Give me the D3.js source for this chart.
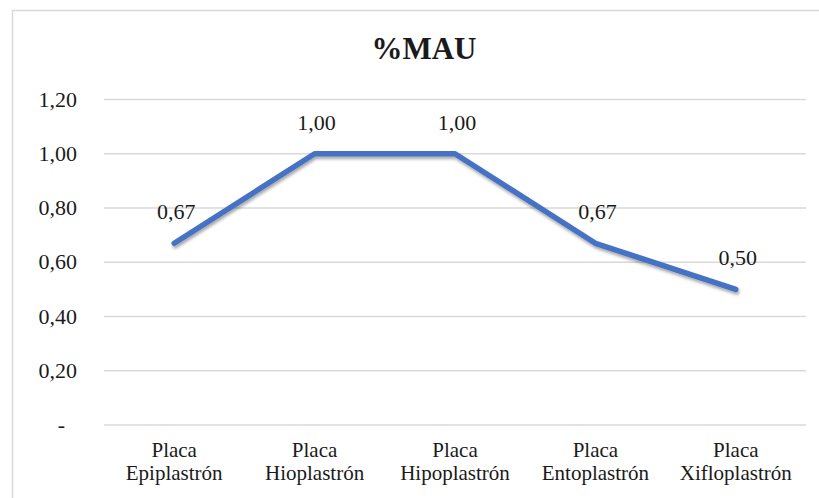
<!DOCTYPE html>
<html>
<head>
<meta charset="utf-8">
<script src="https://cdn.jsdelivr.net/npm/d3@7"></script>
</head>
<body style="margin:0; background:#fff">
<svg width="819" height="498"></svg>
<script>
const categories = [
    ["Placa", "Epiplastrón"],
    ["Placa", "Hioplastrón"],
    ["Placa", "Hipoplastrón"],
    ["Placa", "Entoplastrón"],
    ["Placa", "Xifloplastrón"]
];
const mauValues = [0.67, 1.00, 1.00, 0.67, 0.50];
const yTicks = [0, 0.2, 0.4, 0.6, 0.8, 1.0, 1.2];
const chartTitle = "%MAU";

const FONT = "Liberation Serif";
const svg = d3.select("svg");
const fmt = v => v === 0 ? "-" : v.toFixed(2).replace(".", ",");

// outer chart border
svg.append("rect")
    .attr("x", 12.5).attr("y", 10.5)
    .attr("width", 830).attr("height", 500)
    .attr("fill", "#fff")
    .attr("stroke", "#d9d9d9")
    .attr("stroke-width", 1.5);

const defs = svg.append("defs");
const shadow = defs.append("filter").attr("id", "shadow")
    .attr("x", "-10%").attr("y", "-10%").attr("width", "120%").attr("height", "130%");
shadow.append("feDropShadow")
    .attr("dx", 1).attr("dy", 2.5).attr("stdDeviation", 1.6)
    .attr("flood-color", "#000").attr("flood-opacity", 0.35);

const plotLeft = 104, plotRight = 806, plotTop = 99.5, plotBottom = 425;

const x = d3.scaleBand()
    .domain(d3.range(categories.length))
    .range([plotLeft, plotRight]);

const y = d3.scaleLinear()
    .domain([0, 1.2])
    .range([plotBottom, plotTop]);

// gridlines
svg.append("g")
    .selectAll("line")
    .data(yTicks)
    .enter().append("line")
    .attr("x1", plotLeft).attr("x2", plotRight)
    .attr("y1", d => y(d)).attr("y2", d => y(d))
    .attr("stroke", "#d9d9d9")
    .attr("stroke-width", 1.5);

// y labels
svg.append("g")
    .selectAll("text")
    .data(yTicks)
    .enter().append("text")
    .attr("x", d => d === 0 ? 65 : 77)
    .attr("y", d => y(d) + 7)
    .attr("text-anchor", "end")
    .attr("font-family", FONT)
    .attr("font-size", 22)
    .attr("fill", "#1a1a1a")
    .text(fmt);

// category labels
const cat = svg.append("g")
    .selectAll("text")
    .data(categories)
    .enter().append("text")
    .attr("text-anchor", "middle")
    .attr("font-family", FONT)
    .attr("font-size", 21)
    .attr("fill", "#1a1a1a");
cat.append("tspan")
    .attr("x", (d, i) => x(i) + x.bandwidth() / 2)
    .attr("y", 457)
    .text(d => d[0]);
cat.append("tspan")
    .attr("x", (d, i) => x(i) + x.bandwidth() / 2)
    .attr("y", 480)
    .text(d => d[1]);

// title
svg.append("text")
    .attr("x", 424)
    .attr("y", 59)
    .attr("text-anchor", "middle")
    .attr("font-family", FONT)
    .attr("font-size", 31)
    .attr("font-weight", "bold")
    .attr("fill", "#1a1a1a")
    .text(chartTitle);

// line
const line = d3.line()
    .x((d, i) => x(i) + x.bandwidth() / 2)
    .y(d => y(d));

svg.append("path")
    .datum(mauValues)
    .attr("d", line)
    .attr("fill", "none")
    .attr("stroke", "#4472c4")
    .attr("stroke-width", 5.5)
    .attr("stroke-linejoin", "round")
    .attr("stroke-linecap", "round")
    .attr("filter", "url(#shadow)");

// data labels
svg.append("g")
    .selectAll("text")
    .data(mauValues)
    .enter().append("text")
    .attr("x", (d, i) => x(i) + x.bandwidth() / 2 + 2)
    .attr("y", d => y(d) - 24)
    .attr("text-anchor", "middle")
    .attr("font-family", FONT)
    .attr("font-size", 22)
    .attr("fill", "#1a1a1a")
    .text(fmt);
</script>
</body>
</html>
